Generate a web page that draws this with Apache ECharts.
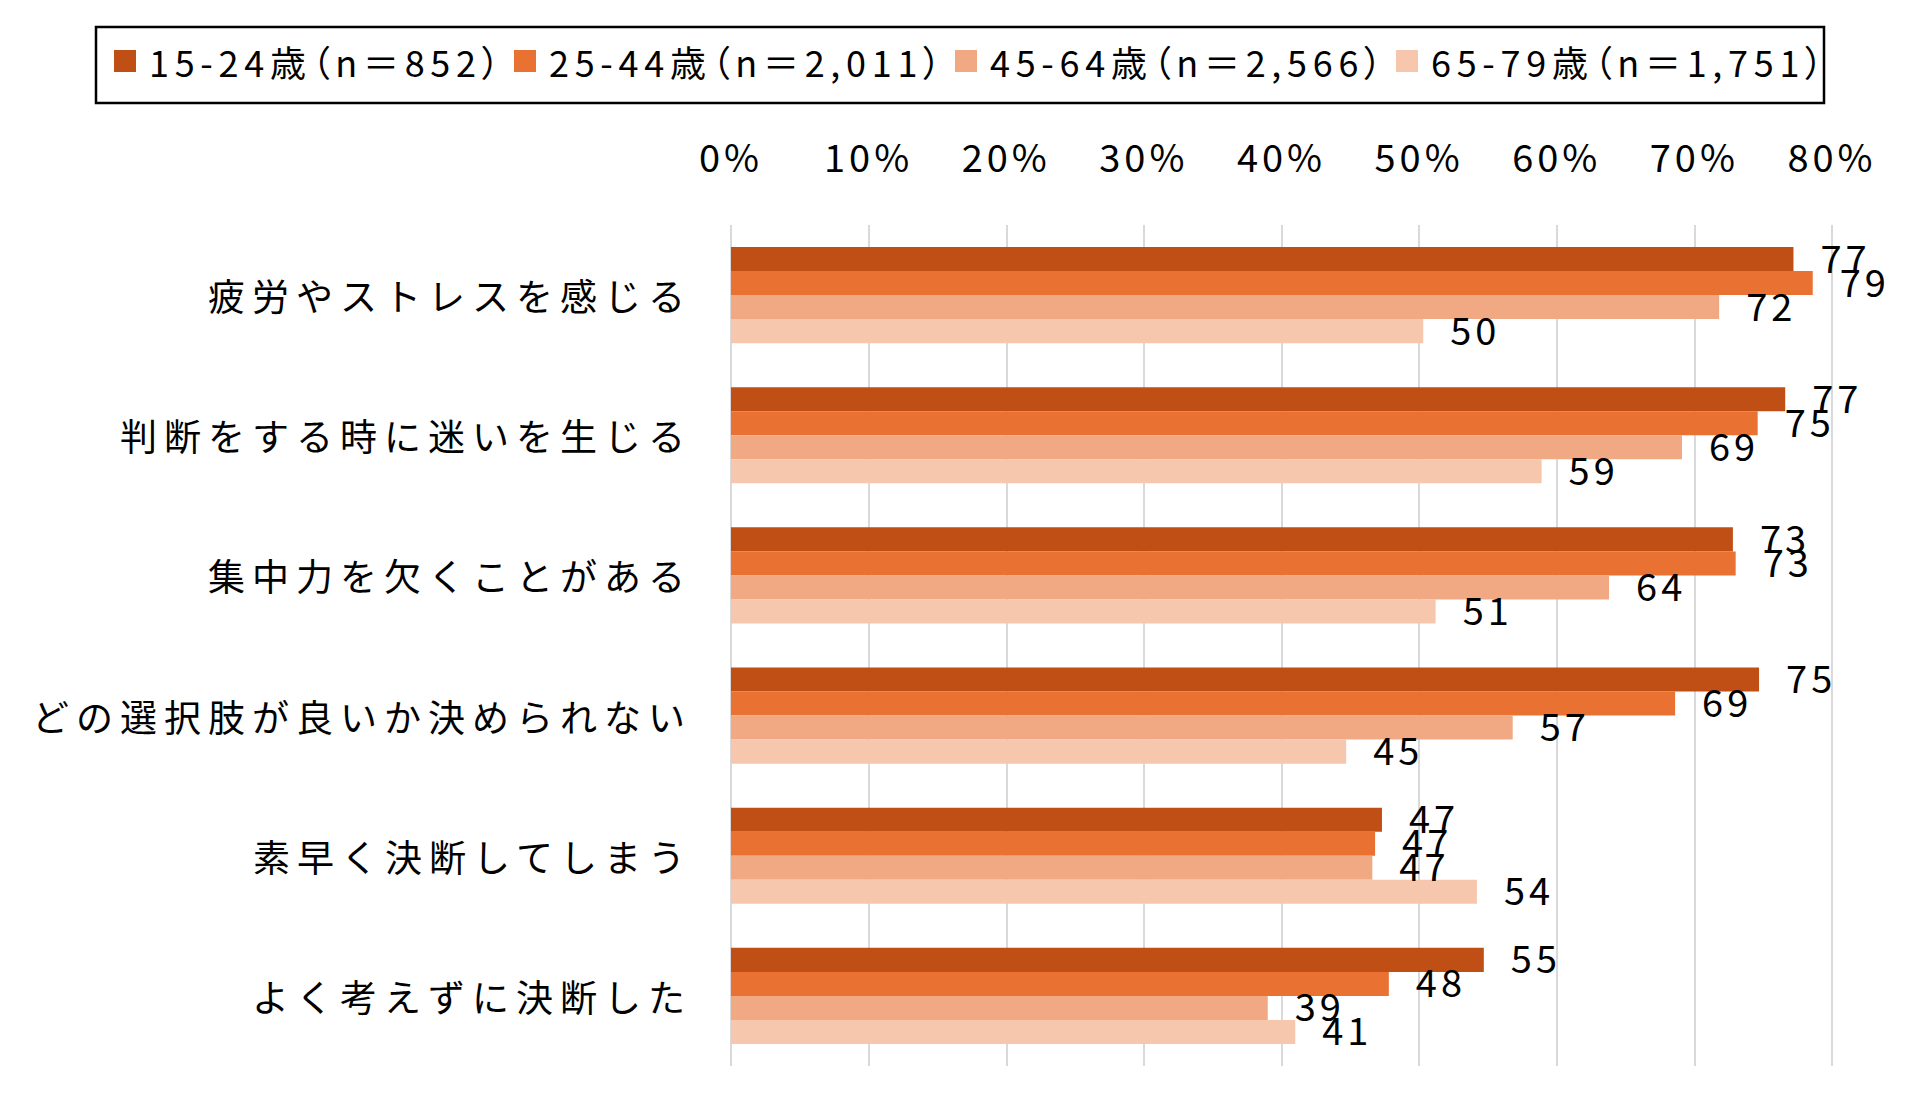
<!DOCTYPE html>
<html>
<head>
<meta charset="utf-8">
<title>判断・決断に関する実態</title>
<script src="https://cdn.jsdelivr.net/npm/echarts@6.0.0/dist/echarts.min.js"></script>
<style>
html, body { margin: 0; padding: 0; background: #fff; }
#chart { width: 1920px; height: 1115px; }
/* 元の図の字間に合わせる */
#chart text[style*="37px"] { letter-spacing: 7px; }
#chart text[style*="38px"] { letter-spacing: 4px; }
#chart text[style*="36px"] { letter-spacing: 5.7px; font-feature-settings: "palt"; }
</style>
</head>
<body>
<div id="chart"></div>
<script>
// 項目
var categories = ['疲労やストレスを感じる', '判断をする時に迷いを生じる', '集中力を欠くことがある',
	'どの選択肢が良いか決められない', '素早く決断してしまう', 'よく考えずに決断した'];
// 年代別（%）
var seriesNames = ['15-24歳（n＝852）', '25-44歳（n＝2,011）', '45-64歳（n＝2,566）', '65-79歳（n＝1,751）'];
var age15_24 = [77.2, 76.6, 72.8, 74.7, 47.3, 54.7];
var age25_44 = [78.6, 74.6, 73.0, 68.6, 46.8, 47.8];
var age45_64 = [71.8, 69.1, 63.8, 56.8, 46.6, 39.0];
var age65_79 = [50.3, 58.9, 51.2, 44.7, 54.2, 41.0];
var colors = ['#C04F15', '#E97132', '#F1A983', '#F6C6AD'];
var legendX = [114, 514, 955, 1396];

var font = '"Noto Sans CJK JP", sans-serif';
var myChart = echarts.init(document.getElementById('chart'), null, {renderer: 'svg'});

var allData = [age15_24, age25_44, age45_64, age65_79];
var series = [];
var legends = [];
for (var i = 0; i < allData.length; i++) {
	series.push({
		name: seriesNames[i],
		type: 'bar',
		data: allData[i],
		barGap: '0%',
		barCategoryGap: '31.4%',
		itemStyle: {color: colors[i]},
		label: {
			show: true,
			position: 'right',
			distance: 27,
			offset: [0, -3],
			color: '#000',
			fontFamily: font,
			fontSize: 38,
			formatter: function(p) {
				return Math.round(p.value);
			}
		},
		emphasis: {disabled: true}
	});
	legends.push({
		data: [seriesNames[i]],
		left: legendX[i],
		top: 43,
		padding: 0,
		itemWidth: 22,
		itemHeight: 22,
		icon: 'rect',
		selectedMode: false,
		textStyle: {
			color: '#000',
			fontFamily: font,
			fontSize: 36,
			padding: [0, 0, 0, 8]
		}
	});
}

option = {
	backgroundColor: '#fff',
	animation: false,
	legend: legends,
	graphic: [{
		type: 'rect',
		shape: {x: 96, y: 27, width: 1728, height: 76},
		style: {fill: 'none', stroke: '#000', lineWidth: 2.5}
	}],
	grid: {left: 731, right: 88, top: 225, bottom: 49, containLabel: false},
	xAxis: {
		type: 'value',
		position: 'top',
		min: 0,
		max: 80,
		interval: 10,
		axisLine: {show: false},
		axisTick: {show: false},
		axisLabel: {
			formatter: '{value}%',
			color: '#000',
			fontFamily: font,
			fontSize: 38,
			margin: 51
		},
		splitLine: {lineStyle: {color: '#d9d9d9', width: 2}}
	},
	yAxis: {
		type: 'category',
		data: categories,
		inverse: true,
		axisLine: {show: false},
		axisTick: {show: false},
		axisLabel: {
			color: '#000',
			fontFamily: font,
			fontSize: 37,
			margin: 39,
			padding: [0, 0, 7, 0]
		}
	},
	series: series
};

myChart.setOption(option);
</script>
</body>
</html>
